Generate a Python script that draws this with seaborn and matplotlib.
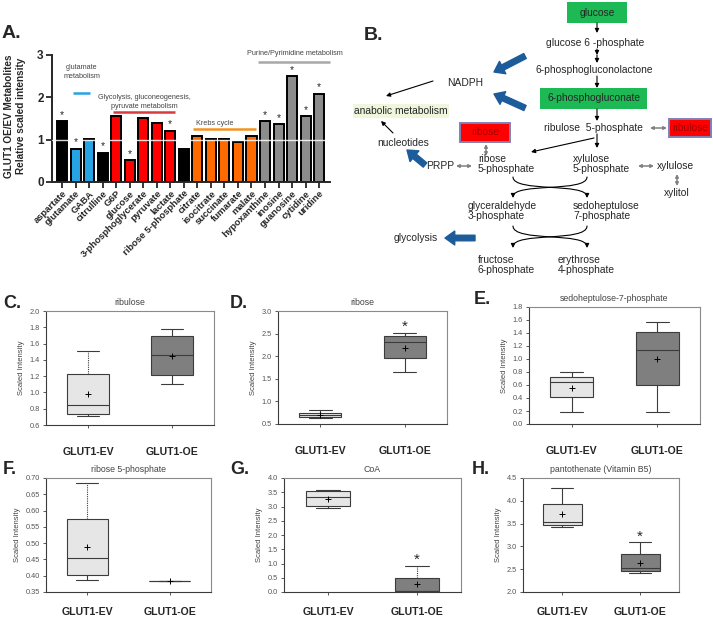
import numpy as np
import matplotlib
matplotlib.use("Agg")
import matplotlib.pyplot as plt
from matplotlib.patches import Rectangle, FancyArrowPatch
from matplotlib.path import Path
import seaborn as sns

sns.set_style("ticks")
plt.rcParams["font.family"] = ["Liberation Sans", "DejaVu Sans"]

W, H = 713, 618

# ---------------- panel A data ----------------
metabolites = ["aspartate", "glutamate", "GABA", "citrulline", "G6P", "glucose",
               "3-phosphoglycerate", "pyruvate", "lactate", "ribose 5-phosphate",
               "citrate", "isocitrate", "succinate", "fumarate", "malate",
               "hypoxanthine", "inosine", "guanosine", "cytidine", "uridine"]
ratio = [1.44, 0.79, 1.02, 0.69, 1.55, 0.51, 1.51, 1.40, 1.21, 0.79,
         1.08, 1.01, 1.01, 0.95, 1.09, 1.44, 1.36, 2.50, 1.56, 2.09]
pathway = ["other", "glutamate", "glutamate", "other", "glycolysis", "glycolysis",
           "glycolysis", "glycolysis", "glycolysis", "other",
           "krebs", "krebs", "krebs", "krebs", "krebs",
           "nucleotide", "nucleotide", "nucleotide", "nucleotide", "nucleotide"]
significant = ["aspartate", "glutamate", "citrulline", "glucose", "lactate",
               "hypoxanthine", "inosine", "guanosine", "cytidine", "uridine"]
PATH_COLORS = {"other": "#000000", "glutamate": "#27a3e3", "glycolysis": "#ff0000",
               "krebs": "#ff6a00", "nucleotide": "#8c8c8c"}

# ---------------- box panels: whislo, q1, med, q3, whishi, mean ----------------
groups = ["GLUT1-EV", "GLUT1-OE"]
ribulose = [[0.71, 0.73, 0.84, 1.23, 1.51, 0.98], [1.10, 1.22, 1.465, 1.69, 1.78, 1.45]]
ribose = [[0.63, 0.66, 0.69, 0.74, 0.81, 0.70], [1.64, 1.95, 2.31, 2.44, 2.52, 2.19]]
sedoheptulose7p = [[0.18, 0.41, 0.64, 0.73, 0.80, 0.56], [0.18, 0.60, 1.14, 1.42, 1.57, 1.00]]
ribose5p = [[0.386, 0.402, 0.455, 0.574, 0.685, 0.488], [0.385, 0.385, 0.385, 0.385, 0.385, 0.385]]
coa = [[2.95, 3.02, 3.33, 3.55, 3.58, 3.28], [0.0, 0.03, 0.05, 0.50, 0.92, 0.27]]
pantothenate = [[3.43, 3.46, 3.54, 3.94, 4.28, 3.70], [2.42, 2.45, 2.53, 2.84, 3.09, 2.64]]

fig = plt.figure(figsize=(W / 100, H / 100), dpi=100)


def px_axes(l, t, r, b):
    return fig.add_axes([l / W, 1 - b / H, (r - l) / W, (b - t) / H])


# ================================================================
# A: bar chart
# ================================================================
ax = px_axes(52, 55, 330, 182)
sns.barplot(x=metabolites, y=ratio, hue=metabolites, legend=False,
            palette=[PATH_COLORS[p] for p in pathway], edgecolor="black",
            linewidth=1.4, width=0.74, saturation=1, ax=ax)
ax.axhline(1.0, color="white", lw=1.0, alpha=0.85, zorder=5)
ax.set_xlim(-0.74, 19.8)
ax.set_ylim(0, 3)
ax.set_yticks([0, 1, 2, 3])
for lab in ax.get_yticklabels():
    lab.set_fontweight("bold")
ax.tick_params(axis="y", labelsize=8.5, width=1.3, length=4, pad=2)
ax.tick_params(axis="x", width=1.3, length=4, pad=1)
ax.set_xticks(range(len(metabolites)))
ax.set_xticklabels(metabolites, rotation=45, ha="right", rotation_mode="anchor",
                   fontsize=6.8, fontweight="bold")
ax.set_xlabel("")
for s in ["left", "bottom"]:
    ax.spines[s].set_linewidth(1.4)
sns.despine(ax=ax)
for i, (m, v) in enumerate(zip(metabolites, ratio)):
    if m in significant:
        ax.text(i, v + 0.03, "*", ha="center", va="bottom", fontsize=7.5, zorder=6)

group_marks = [  # x0, x1, y line, label, label x, label y, colour
    (0.8, 2.1, 2.1, "glutamate\nmetabolism", 1.45, 2.6, "#27a3e3"),
    (3.75, 8.35, 1.65, "Glycolysis, gluconeogenesis,\npyruvate metabolism", 6.1, 1.9, "#d93a40"),
    (9.7, 14.35, 1.25, "Krebs cycle", 11.3, 1.39, "#f39220"),
    (14.5, 19.8, 2.83, "Purine/Pyrimidine metabolism", 17.2, 3.04, "#a8a8a8"),
]
for x0, x1, yl, lab, tx, ty, c in group_marks:
    ax.plot([x0, x1], [yl, yl], color=c, lw=1.8, clip_on=False, solid_capstyle="butt")
    ax.text(tx, ty, lab, ha="center", va="center", fontsize=5.2, color="#444444",
            linespacing=1.4, clip_on=False)

fig.text(15 / W, 1 - 116 / H, "GLUT1 OE/EV Metabolites\nRelative scaled intensity",
         rotation=90, ha="center", va="center", fontsize=7.2, fontweight="bold",
         linespacing=1.2)
fig.text(2 / W, 1 - 33 / H, "A.", fontsize=14, fontweight="bold", va="center")

# ================================================================
# B: pentose phosphate pathway scheme (pixel coordinates)
# ================================================================
axb = px_axes(340, 0, 713, 280)
axb.set_xlim(340, 713)
axb.set_ylim(280, 0)
axb.axis("off")
fig.text(364 / W, 1 - 35 / H, "B.", fontsize=14, fontweight="bold", va="center")

FS = 7.4


def box(x0, y0, x1, y1, fc, ec=None):
    axb.add_patch(Rectangle((x0, y0), x1 - x0, y1 - y0, facecolor=fc,
                            edgecolor=ec if ec else fc, lw=1.4 if ec else 0, zorder=1))


def txt(x, y, s, ha="center", **kw):
    axb.text(x, y, s, ha=ha, va="center", fontsize=FS, zorder=3, **kw)


def arrow(p0, p1, color="black", lw=0.8, style="-|>", ms=6, **kw):
    axb.add_patch(FancyArrowPatch(p0, p1, arrowstyle=style, color=color, lw=lw,
                                  mutation_scale=ms, shrinkA=0, shrinkB=0, zorder=2, **kw))


def blue(p0, p1):
    axb.add_patch(FancyArrowPatch(p0, p1, arrowstyle="simple,head_width=1.0,head_length=0.7,tail_width=0.4",
                                  color="#1c5c9a", mutation_scale=10, shrinkA=0, shrinkB=0, zorder=2))


def gray2(p0, p1):
    arrow(p0, p1, color="#808080", lw=1.1, style="<|-|>", ms=4.5)


def scurve(p0, p1):
    (x0, y0), (x1, y1) = p0, p1
    dy = y1 - y0
    verts = [(x0, y0), (x0, y0 + 0.75 * dy), (x1, y0 + 0.25 * dy), (x1, y1)]
    codes = [Path.MOVETO, Path.CURVE4, Path.CURVE4, Path.CURVE4]
    axb.add_patch(FancyArrowPatch(path=Path(verts, codes), arrowstyle="-|>", color="black",
                                  lw=0.8, mutation_scale=6, zorder=2))


box(567, 2, 627, 23, "#1db954")
txt(597, 13, "glucose")
arrow((597, 23), (597, 33))
txt(595, 43, "glucose 6 -phosphate")
arrow((597, 49), (597, 55))
arrow((597, 55), (597, 63))
txt(594, 70, "6-phosphogluconolactone")
arrow((597, 76), (597, 88))
box(540, 88, 647, 109, "#1db954")
txt(594, 98, "6-phosphogluconate")
arrow((597, 109), (597, 121))
txt(593, 128, "ribulose  5-phosphate")
gray2((650, 128), (667, 128))
box(669, 119, 711, 137, "#ff0000", "#8080b8")
txt(690, 128, "ribulose", color="#a00000")
arrow((597, 134), (597, 148))
arrow((594, 138), (531, 152))
txt(573, 164, "xylulose\n5-phosphate", ha="left", linespacing=1.0)
txt(478, 164, "ribose\n5-phosphate", ha="left", linespacing=1.0)
box(460, 123, 510, 142, "#ff0000", "#8080b8")
txt(485, 132, "ribose", color="#a00000")
gray2((486, 144), (486, 156))
txt(440, 166, "PRPP")
gray2((456, 166), (472, 166))
blue((425, 165), (407, 150))
txt(403, 143, "nucleotides")
arrow((393, 133), (381, 121))
axb.text(401, 111, "anabolic metabolism", ha="center", va="center", fontsize=FS, zorder=3,
         bbox=dict(boxstyle="square,pad=0.15", fc="#eef6dc", ec="none"))
arrow((433, 81), (386, 96))
txt(465, 83, "NADPH")
blue((525, 56), (494, 72))
blue((525, 108), (494, 94))
gray2((638, 166), (654, 166))
txt(657, 166, "xylulose", ha="left")
gray2((677, 174), (677, 186))
txt(677, 193, "xylitol")
scurve((513, 177), (587, 198))
scurve((587, 177), (513, 198))
txt(468, 211, "glyceraldehyde\n3-phosphate", ha="left", linespacing=1.0)
txt(573, 211, "sedoheptulose\n7-phosphate", ha="left", linespacing=1.0)
scurve((513, 226), (587, 248))
scurve((587, 226), (513, 248))
blue((475, 238), (445, 238))
txt(416, 238, "glycolysis")
txt(478, 265, "fructose\n6-phosphate", ha="left", linespacing=1.0)
txt(558, 265, "erythrose\n4-phosphate", ha="left", linespacing=1.0)

# ================================================================
# C-H: box plots
# ================================================================
FILL = ["#e6e6e6", "#7f7f7f"]
EDGE = "#3c3c3c"


def box_panel(rect, data, title, ylim, step, fmt, letter, lx, xpad, stars=(), dotted=()):
    ax = px_axes(*rect)
    stats = []
    for g, v in zip(groups, data):
        stats.append(dict(label=g, whislo=v[0], q1=v[1], med=v[2], q3=v[3],
                          whishi=v[4], mean=v[5], fliers=[]))
    res = ax.bxp(stats, positions=[1, 2], widths=0.5, capwidths=0.27, showmeans=True,
                 patch_artist=True,
                 boxprops=dict(edgecolor=EDGE, linewidth=0.8),
                 medianprops=dict(color=EDGE, linewidth=0.8),
                 whiskerprops=dict(color=EDGE, linewidth=0.8),
                 capprops=dict(color=EDGE, linewidth=0.8),
                 meanprops=dict(marker="+", markeredgecolor="black", markersize=4,
                                markeredgewidth=0.7))
    for patch, fc in zip(res["boxes"], FILL):
        patch.set_facecolor(fc)
    for k in dotted:
        res["whiskers"][k].set_linestyle((0, (1, 1)))
    ax.set_xlim(0.5, 2.5)
    ax.set_ylim(*ylim)
    ticks = np.arange(ylim[0], ylim[1] + step / 2, step)
    ax.set_yticks(ticks)
    ax.set_yticklabels([fmt.format(t) for t in ticks])
    ax.tick_params(axis="y", labelsize=5.3, labelcolor="#555555", length=2.5, width=0.6,
                   color=EDGE, pad=2)
    ax.tick_params(axis="x", labelsize=7.6, length=2.5, width=0.6, color=EDGE, pad=xpad)
    ax.set_xticks([1, 2])
    ax.set_xticklabels(groups, fontweight="bold")
    for s in ["left", "bottom"]:
        ax.spines[s].set_color(EDGE)
        ax.spines[s].set_linewidth(0.8)
    for s in ["top", "right"]:
        ax.spines[s].set_color("#8a8a8a")
        ax.spines[s].set_linewidth(0.8)
    ax.set_title(title, fontsize=6.3, color="#444444", pad=4)
    ax.set_ylabel("Scaled Intensity", fontsize=5.5, color="#444444", labelpad=3)
    for pos, y in stars:
        ax.text(pos, y, "*", ha="center", va="center", fontsize=11)
    fig.text(lx / W, 1 - (rect[1] - 8) / H, letter, fontsize=13, fontweight="bold",
             va="center")
    return ax


box_panel((46, 311, 214, 425), ribulose, "ribulose", (0.6, 2.0), 0.2, "{:.1f}", "C.", 3, 13,
          dotted=(1,))
box_panel((278, 311, 447, 424), ribose, "ribose", (0.5, 3.0), 0.5, "{:.1f}", "D.", 230, 13,
          stars=[(2, 2.66)])
box_panel((529, 307, 700, 424), sedoheptulose7p, "sedoheptulose-7-phosphate", (0.0, 1.8), 0.2,
          "{:.1f}", "E.", 474, 13)
box_panel((46, 478, 211, 592), ribose5p, "ribose 5-phosphate", (0.35, 0.70), 0.05, "{:.2f}",
          "F.", 3, 8, dotted=(1,))
box_panel((284, 478, 461, 592), coa, "CoA", (0.0, 4.0), 0.5, "{:.1f}", "G.", 230, 8,
          stars=[(2, 1.12)], dotted=(3,))
box_panel((523, 478, 679, 592), pantothenate, "pantothenate (Vitamin B5)", (2.0, 4.5), 0.5,
          "{:.1f}", "H.", 472, 8, stars=[(2, 3.2)])

fig.savefig("out.png", dpi=100)
